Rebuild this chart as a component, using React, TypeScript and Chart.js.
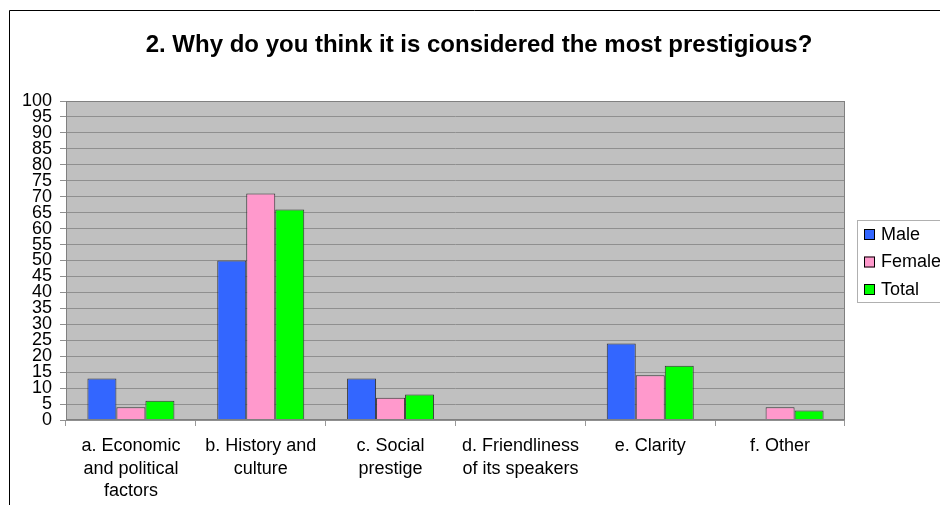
import React, { useEffect, useRef } from "react";
import { Chart, registerables } from "chart.js";

Chart.register(...registerables);

const categories: string[][] = [
  ["a. Economic", "and political", "factors"],
  ["b. History and", "culture"],
  ["c. Social", "prestige"],
  ["d. Friendliness", "of its speakers"],
  ["e. Clarity"],
  ["f. Other"],
];

const maleValues = [13, 50, 13, 0, 24, 0];
const femaleValues = [4, 71, 7, 0, 14, 4];
const totalValues = [6, 66, 8, 0, 17, 3];

const seriesNames = ["Male", "Female", "Total"];
const seriesColors = ["#3366FF", "#FF99CC", "#00FF00"];

const titleText = "2. Why do you think it is considered the most prestigious?";

const FONT = "'Liberation Sans', Arial, sans-serif";

// Frame, plot background, title and side legend drawn on the canvas
const decorPlugin = {
  id: "decor",
  beforeDraw(chart: any) {
    const { ctx, chartArea } = chart;
    ctx.save();
    ctx.fillStyle = "#ffffff";
    ctx.fillRect(0, 0, chart.width, chart.height);
    // outer frame (top and left edges)
    ctx.strokeStyle = "#000000";
    ctx.lineWidth = 1;
    ctx.beginPath();
    ctx.moveTo(9.5, chart.height);
    ctx.lineTo(9.5, 10.5);
    ctx.lineTo(chart.width, 10.5);
    ctx.stroke();
    // plot background
    ctx.fillStyle = "#C0C0C0";
    ctx.fillRect(
      chartArea.left,
      chartArea.top,
      chartArea.right - chartArea.left,
      chartArea.bottom - chartArea.top
    );
    // title
    ctx.fillStyle = "#000000";
    ctx.font = `bold 24px ${FONT}`;
    ctx.textAlign = "center";
    ctx.textBaseline = "alphabetic";
    ctx.fillText(titleText, 479, 52);
    ctx.restore();
  },
  afterDraw(chart: any) {
    const { ctx, chartArea } = chart;
    ctx.save();
    // plot border
    ctx.strokeStyle = "#808080";
    ctx.lineWidth = 1;
    ctx.strokeRect(
      chartArea.left + 0.5,
      chartArea.top + 0.5,
      chartArea.right - chartArea.left - 1,
      chartArea.bottom - chartArea.top - 1
    );
    // legend box
    const lx = 857.5;
    const ly = 220.5;
    ctx.fillStyle = "#ffffff";
    ctx.fillRect(lx, ly, 90, 82);
    ctx.strokeStyle = "#B0B0B0";
    ctx.strokeRect(lx, ly, 90, 82);
    ctx.font = `18px ${FONT}`;
    ctx.textAlign = "left";
    ctx.textBaseline = "middle";
    chart.data.datasets.forEach((ds: any, i: number) => {
      const cy = 234 + i * 27.5;
      ctx.fillStyle = ds.backgroundColor;
      ctx.fillRect(864, cy - 5, 11, 11);
      ctx.strokeStyle = "#000000";
      ctx.strokeRect(864.5, cy - 5 + 0.5, 10, 10);
      ctx.fillStyle = "#000000";
      ctx.fillText(ds.label, 881, cy + 1);
    });
    ctx.restore();
  },
};

export default function App() {
  const canvasRef = useRef<HTMLCanvasElement | null>(null);

  useEffect(() => {
    document.body.style.margin = "0";
    const canvas = canvasRef.current;
    if (!canvas) return;
    const values = [maleValues, femaleValues, totalValues];
    const chart = new Chart(canvas, {
      type: "bar",
      data: {
        labels: categories,
        datasets: seriesNames.map((name, i) => ({
          label: name,
          data: values[i],
          backgroundColor: seriesColors[i],
          borderColor: "#333333",
          borderWidth: 1,
          categoryPercentage: 0.67,
          barPercentage: 1,
        })),
      },
      options: {
        responsive: false,
        animation: false,
        maintainAspectRatio: false,
        devicePixelRatio: 1,
        layout: { padding: { left: 0, top: 101, right: 95, bottom: 0 } },
        plugins: {
          legend: { display: false },
          title: { display: false },
          tooltip: { enabled: false },
        },
        scales: {
          x: {
            grid: {
              display: true,
              offset: true,
              drawOnChartArea: false,
              drawTicks: true,
              tickLength: 6,
              color: "#999999",
            },
            border: { display: false },
            ticks: {
              color: "#000000",
              font: { family: FONT, size: 18, lineHeight: 1.25 },
              padding: 9,
              maxRotation: 0,
              autoSkip: false,
            },
            afterFit(scale: any) {
              scale.height = 85;
            },
          },
          y: {
            min: 0,
            max: 100,
            grid: {
              color: "#8F8F8F",
              tickLength: 6,
              drawTicks: true,
            },
            border: { display: false },
            ticks: {
              stepSize: 5,
              autoSkip: false,
              color: "#000000",
              font: { family: FONT, size: 18, lineHeight: 0.9 },
              padding: 8,
            },
            afterFit(scale: any) {
              scale.width = 66;
            },
          },
        },
      },
      plugins: [decorPlugin],
    });
    return () => chart.destroy();
  }, []);

  return (
    <div style={{ position: "absolute", left: 0, top: 0, width: 940, height: 505 }}>
      <canvas ref={canvasRef} width={940} height={505} style={{ display: "block" }} />
    </div>
  );
}
